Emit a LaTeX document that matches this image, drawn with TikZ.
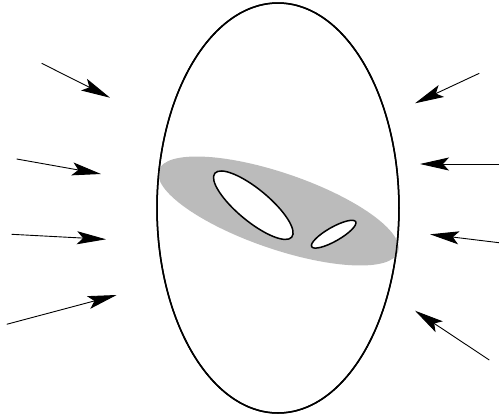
\documentclass[tikz,border=0pt]{standalone}
\usetikzlibrary{arrows.meta}
\definecolor{diskgray}{RGB}{187,187,187}
\begin{document}
\begin{tikzpicture}[x=1pt,y=-1pt,
  inarrow/.style={line width=0.9pt,-{Stealth[length=29pt,width=13pt,inset=6pt]}},
  outline/.style={line width=1.5pt}]
\useasboundingbox (0,0) rectangle (499,418);
% outer ellipse
\draw[outline] (278,208) ellipse [x radius=121, y radius=205];
% gray disc
\fill[diskgray] (278.5,211) ellipse [x radius=126.4, y radius=38, rotate=-18.9];
% holes
\draw[outline,fill=white] (253.3,205.2) ellipse [x radius=50, y radius=16, rotate=-39.7];
\draw[outline,fill=white] (333.7,234.2) ellipse [x radius=25.3, y radius=7, rotate=29.6];
% redraw outer ellipse over disc
\draw[outline] (278,208) ellipse [x radius=121, y radius=205];
% arrow endpoints
\coordinate (s1) at (41.7,63.3);  \coordinate (t1) at (110,97.7);
\coordinate (s2) at (16.7,159);   \coordinate (t2) at (101,174);
\coordinate (s3) at (11.7,234.3); \coordinate (t3) at (106,239.3);
\coordinate (s4) at (6.7,324.3);  \coordinate (t4) at (116.7,295);
\coordinate (s5) at (479.3,73.3); \coordinate (t5) at (415,103.3);
\coordinate (s6) at (499,164);    \coordinate (t6) at (420,164);
\coordinate (s7) at (499,242.7);  \coordinate (t7) at (430,234.3);
\coordinate (s8) at (489.3,360);  \coordinate (t8) at (415,310.7);
\foreach \i in {1,...,8} {\draw[inarrow] (s\i) -- (t\i);}
\end{tikzpicture}
\end{document}
